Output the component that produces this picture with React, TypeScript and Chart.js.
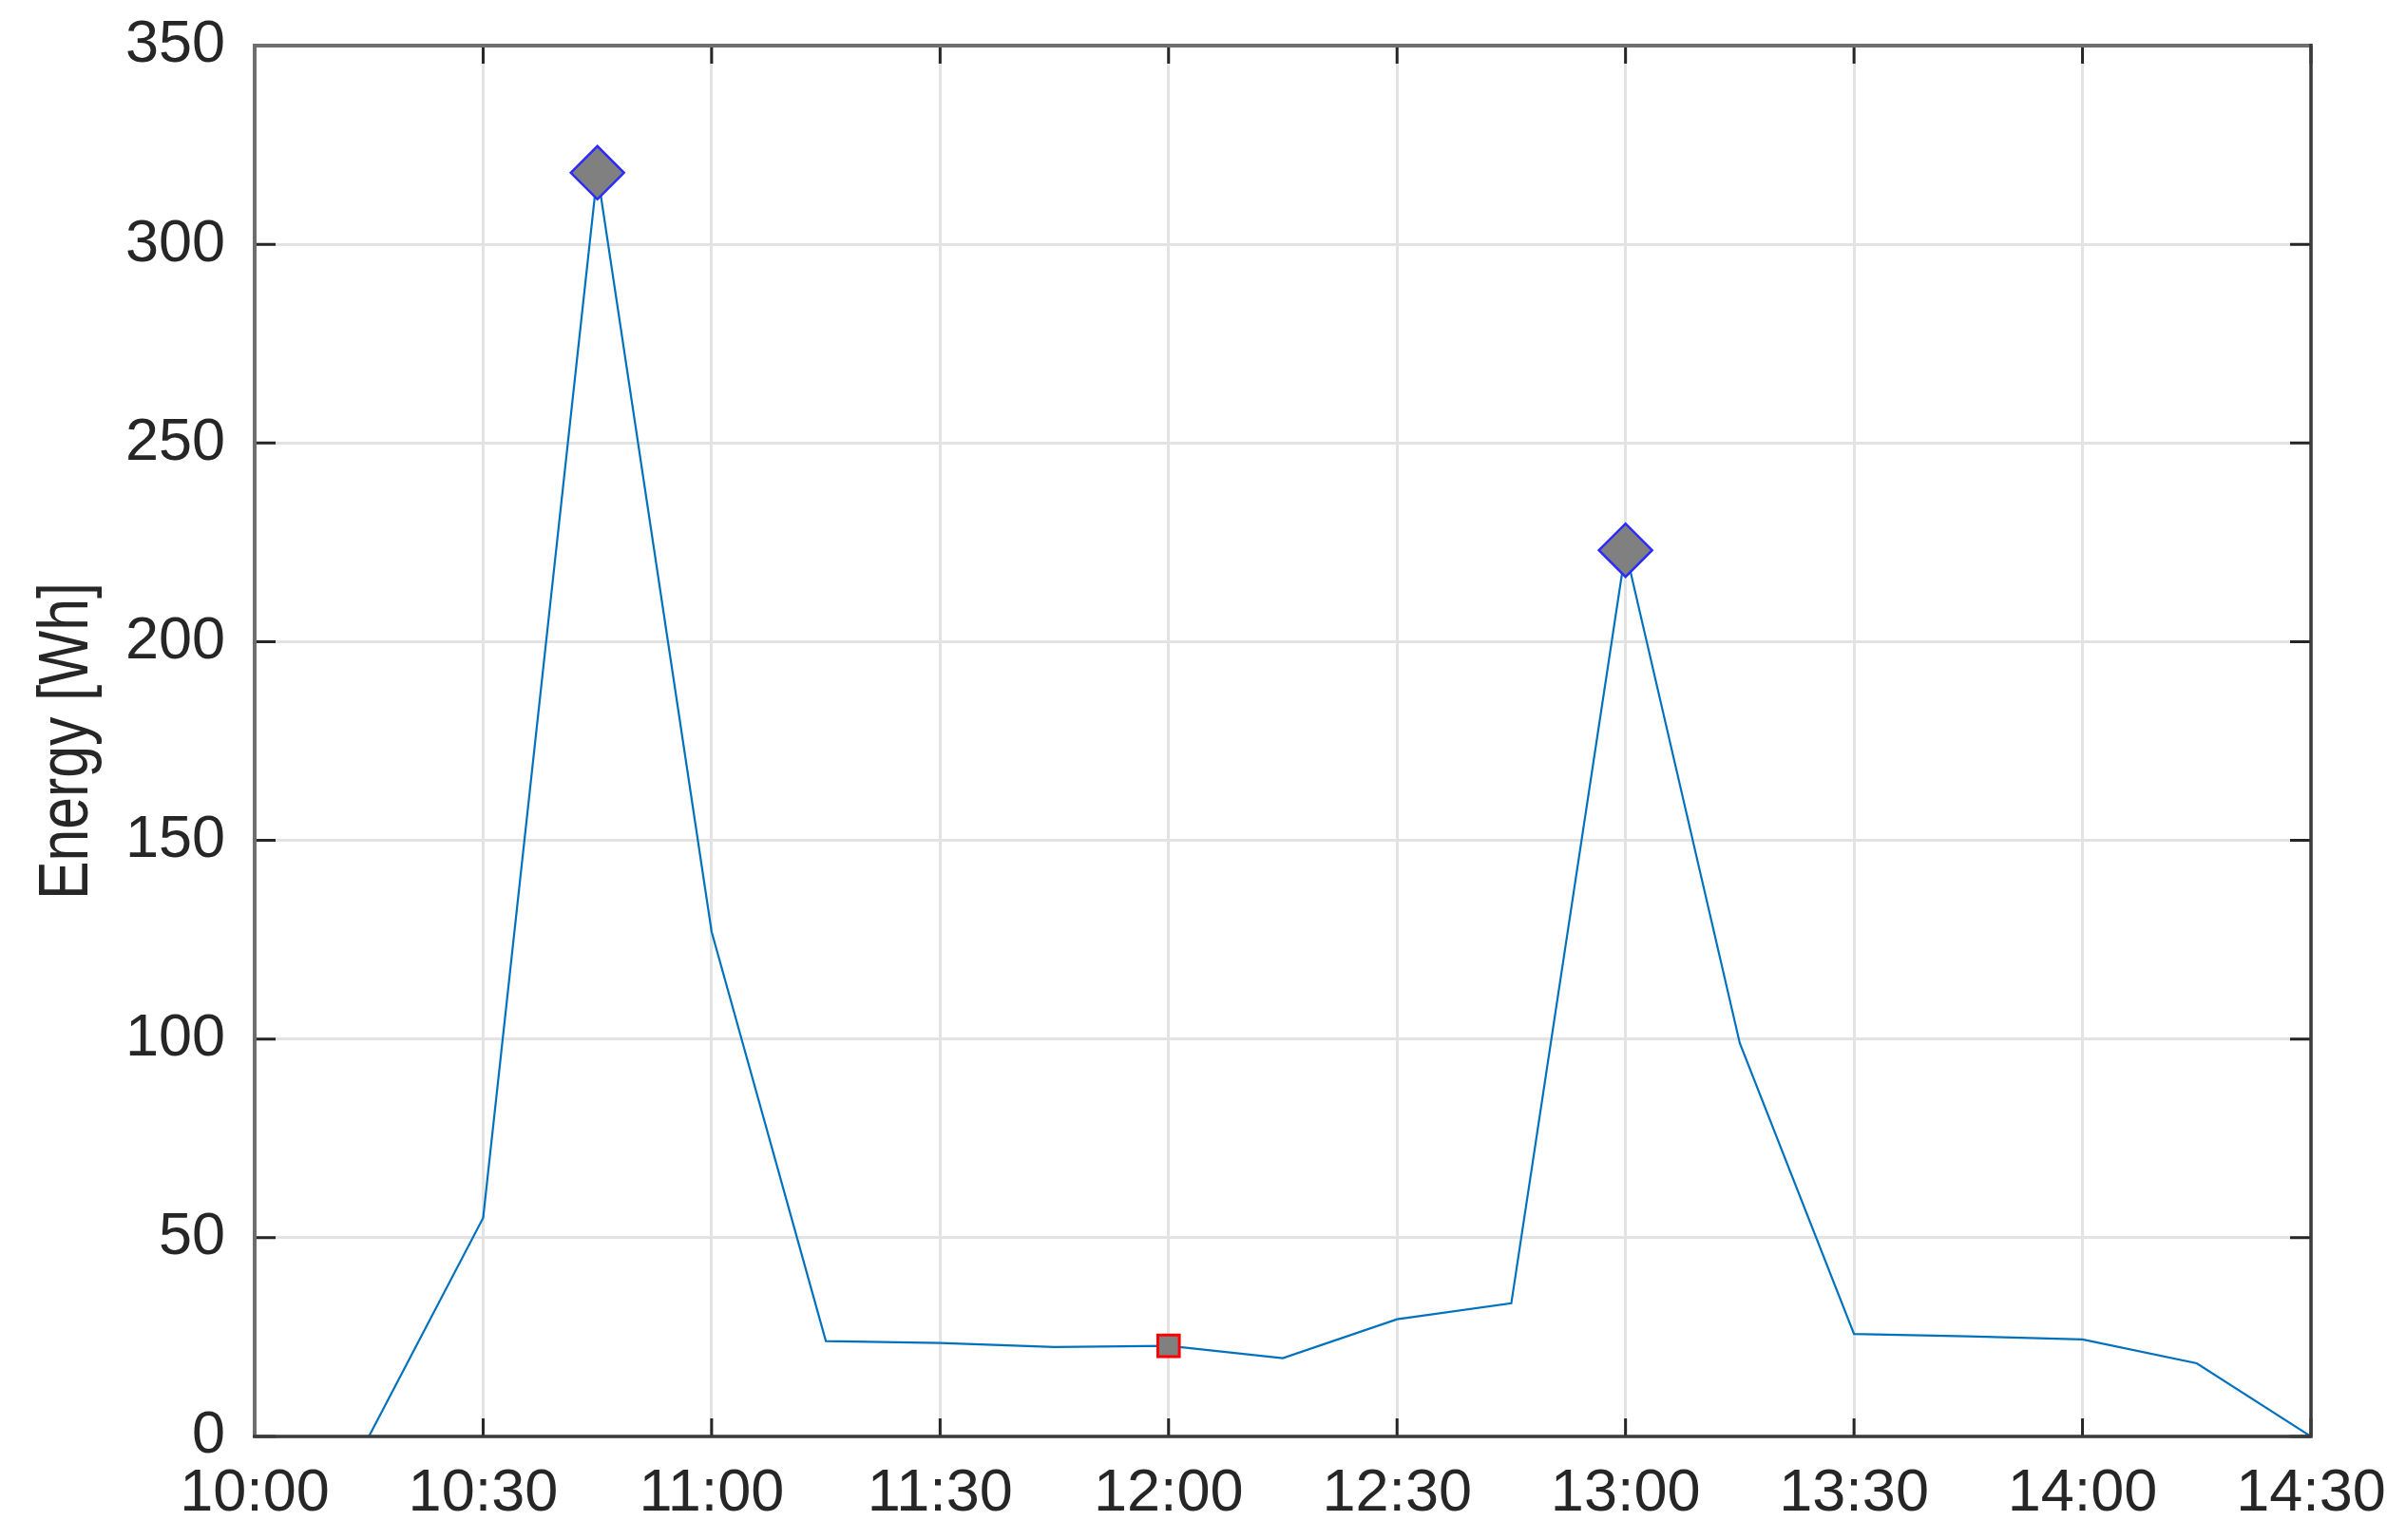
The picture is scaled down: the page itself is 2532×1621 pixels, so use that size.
import React, { useEffect, useRef } from "react";
import { Chart, registerables } from "chart.js";

Chart.register(...registerables);

// ---- data ----
const timeLabels = [
  "10:15", "10:30", "10:45", "11:00", "11:15", "11:30", "11:45", "12:00", "12:15",
  "12:30", "12:45", "13:00", "13:15", "13:30", "13:45", "14:00", "14:15", "14:30",
];
const energyWh = [
  0, 55, 318, 127, 24, 23.5, 22.5, 22.8, 19.7,
  29.5, 33.5, 223, 99, 25.8, 25.2, 24.4, 18.4, 0,
];
const peakTimes = ["10:45", "13:00"];
const peakValues = [318, 223];
const refTimes = ["12:00"];
const refValues = [22.8];

const xMinLabel = "10:00";
const xMaxLabel = "14:30";
const xStepMinutes = 30;
const yMin = 0;
const yMax = 350;
const yStep = 50;
const yTitle = "Energy [Wh]";

const toMin = (s: string) => {
  const [h, m] = s.split(":").map(Number);
  return h * 60 + m;
};
const fmt = (v: number) => {
  const h = Math.floor(v / 60);
  const m = Math.round(v - h * 60);
  return `${h}:${m.toString().padStart(2, "0")}`;
};

const boxPlugin = {
  id: "matlabBox",
  afterDatasetsDraw(chart: any) {
    const { ctx, chartArea, scales } = chart;
    const { left, right, top, bottom } = chartArea;
    const x = scales.x;
    const y = scales.y;
    ctx.save();
    // inward ticks
    ctx.strokeStyle = "#262626";
    ctx.lineWidth = 3;
    const tl = 19;
    const tly = 22;
    x.ticks.forEach((t: any) => {
      const px = x.getPixelForValue(t.value);
      ctx.beginPath();
      ctx.moveTo(px, bottom);
      ctx.lineTo(px, bottom - tl);
      ctx.moveTo(px, top);
      ctx.lineTo(px, top + tl);
      ctx.stroke();
    });
    y.ticks.forEach((t: any) => {
      const py = y.getPixelForValue(t.value);
      ctx.beginPath();
      ctx.moveTo(left, py);
      ctx.lineTo(left + tly, py);
      ctx.moveTo(right, py);
      ctx.lineTo(right - tly, py);
      ctx.stroke();
    });
    // box
    ctx.lineWidth = 4;
    ctx.strokeStyle = "#6e6e6e";
    ctx.beginPath();
    ctx.moveTo(left, bottom);
    ctx.lineTo(left, top);
    ctx.lineTo(right, top);
    ctx.stroke();
    ctx.strokeStyle = "#3a3a3a";
    ctx.lineWidth = 3.5;
    ctx.beginPath();
    ctx.moveTo(left - 2, bottom);
    ctx.lineTo(right, bottom);
    ctx.lineTo(right, top - 2);
    ctx.stroke();

    // y-axis title (condensed, like the reference's narrow Helvetica)
    ctx.fillStyle = "#262626";
    ctx.font = "74px 'Liberation Sans', Arial, sans-serif";
    ctx.textAlign = "center";
    ctx.textBaseline = "middle";
    ctx.translate(72, (top + bottom) / 2);
    ctx.rotate(-Math.PI / 2);
    ctx.scale(0.82, 1);
    ctx.fillText(yTitle, 0, 0);
    ctx.restore();
  },
};

export default function App() {
  const ref = useRef<HTMLCanvasElement | null>(null);
  useEffect(() => {
    if (!ref.current) return;
    const tickFont = { family: "'Liberation Sans', Arial, sans-serif", size: 63 };
    const chart = new Chart(ref.current, {
      type: "line",
      data: {
        datasets: [
          {
            label: "peaks",
            data: peakTimes.map((t, i) => ({ x: toMin(t), y: peakValues[i] })),
            showLine: false,
            pointStyle: "rectRot",
            pointRadius: 28,
            pointBackgroundColor: "#808080",
            pointBorderColor: "#2b2bff",
            pointBorderWidth: 2.5,
            order: 0,
          },
          {
            label: "ref",
            data: refTimes.map((t, i) => ({ x: toMin(t), y: refValues[i] })),
            showLine: false,
            pointStyle: "rect",
            pointRadius: 16,
            pointBackgroundColor: "#808080",
            pointBorderColor: "#ff0000",
            pointBorderWidth: 3,
            order: 1,
          },
          {
            label: "energy",
            data: timeLabels.map((t, i) => ({ x: toMin(t), y: energyWh[i] })),
            borderColor: "#0072BD",
            borderWidth: 2.2,
            pointRadius: 0,
            tension: 0,
            fill: false,
            order: 2,
          },
        ],
      },
      options: {
        animation: false,
        responsive: false,
        maintainAspectRatio: false,
        layout: { padding: { left: 0, top: 48, right: 100, bottom: 0 } },
        plugins: { legend: { display: false }, tooltip: { enabled: false } },
        scales: {
          x: {
            type: "linear",
            min: toMin(xMinLabel),
            max: toMin(xMaxLabel),
            ticks: {
              stepSize: xStepMinutes,
              callback: (v: any) => fmt(Number(v)),
              font: tickFont,
              color: "#262626",
              padding: 23,
              maxRotation: 0,
              autoSkip: false,
            },
            grid: { color: "#e3e3e3", lineWidth: 3, drawTicks: false },
            border: { display: false },
            afterFit: (s: any) => {
              s.height = 109;
              s.paddingLeft = 0;
              s.paddingRight = 0;
            },
          },
          y: {
            type: "linear",
            min: yMin,
            max: yMax,
            ticks: {
              stepSize: yStep,
              font: tickFont,
              color: "#262626",
              padding: 31,
            },
            grid: { color: "#e3e3e3", lineWidth: 3, drawTicks: false },
            border: { display: false },
            title: { display: false, text: yTitle },
            afterFit: (s: any) => {
              s.width = 268;
              s.paddingTop = 0;
              s.paddingBottom = 0;
            },
          },
        },
      },
      plugins: [boxPlugin],
    } as any);
    return () => chart.destroy();
  }, []);
  return (
    <div style={{ position: "absolute", left: 0, top: 0, width: 2532, height: 1621, background: "#fff" }}>
      <canvas ref={ref} width={2532} height={1621} style={{ width: 2532, height: 1621 }} />
    </div>
  );
}
